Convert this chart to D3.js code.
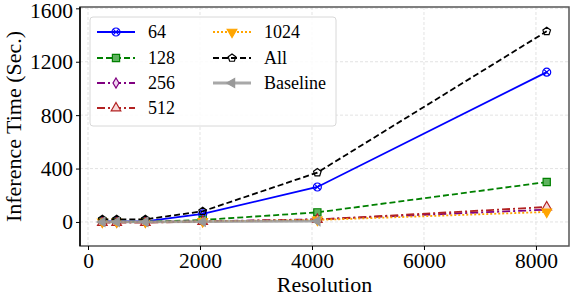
<!DOCTYPE html>
<html>
<head>
<meta charset="utf-8">
<script src="https://cdn.jsdelivr.net/npm/d3@7"></script>
<style>
  body { margin: 0; background: #fff; }
  svg { display: block; font-family: "Liberation Serif", "DejaVu Serif", serif; }
</style>
</head>
<body>
<svg id="chart" width="572" height="296"></svg>
<script>
(function() {
    'use strict';

    var resolutions = [256, 512, 1024, 2048, 4096, 8192];
    var t64 = [5, 5, 5, 60, 262, 1122];
    var t128 = [2, 2, 2, 15, 72, 299];
    var t256 = [0, 0, 0, 5, 20, 92];
    var t512 = [-5, -5, -5, 3, 18, 112];
    var t1024 = [0, 0, 0, 4, 15, 75];
    var tAll = [20, 20, 20, 80, 370, 1428];
    var tBaseline = [0, 0, 0, 2, 7];
    var xTicks = [0, 2000, 4000, 6000, 8000];
    var yTicks = [0, 400, 800, 1200, 1600];

    var width = 572, height = 296,
        margin = {top: 7, right: 3, bottom: 50, left: 80};

    var svg = d3.select("#chart");
    var x = d3.scaleLinear().domain([-143, 8590]).range([margin.left, width - margin.right]);
    var y = d3.scaleLinear().domain([-180, 1610]).range([height - margin.bottom, margin.top]);

    function pentagon(r) {
        var p = d3.path();
        for (var i = 0; i < 5; i++) {
            var a = -Math.PI / 2 + i * 2 * Math.PI / 5;
            if (i === 0) p.moveTo(r * Math.cos(a), r * Math.sin(a));
            else p.lineTo(r * Math.cos(a), r * Math.sin(a));
        }
        p.closePath();
        return p.toString();
    }
    function circleX(r) {
        var k = r * 0.7;
        return d3.symbol(d3.symbolCircle, Math.PI * r * r)() +
            "M" + (-k) + "," + (-k) + "L" + k + "," + k + "M" + k + "," + (-k) + "L" + (-k) + "," + k;
    }
    function thinDiamond(r) {
        return "M0," + (-r) + "L" + (r * 0.6) + ",0L0," + r + "L" + (-r * 0.6) + ",0Z";
    }

    var series = [
        {name: "64", values: t64, color: "#0000ff", dash: null, marker: function() { return circleX(4); }, fill: "none", rot: 0},
        {name: "128", values: t128, color: "#008000", dash: "6,3", marker: function() { return d3.symbol(d3.symbolSquare, 52)(); }, fill: "#5fb35f", rot: 0},
        {name: "256", values: t256, color: "#800080", dash: "8,3,2,3", marker: function() { return thinDiamond(5); }, fill: "#f0d8f0", rot: 0},
        {name: "512", values: t512, color: "#b22222", dash: "8,3,2,3", marker: function() { return d3.symbol(d3.symbolTriangle, 40)(); }, fill: "#f8d8d8", rot: 0},
        {name: "1024", values: t1024, color: "#ffa500", dash: "2,2", marker: function() { return d3.symbol(d3.symbolTriangle, 40)(); }, fill: "#ffa500", rot: 180},
        {name: "All", values: tAll, color: "#000000", dash: "6,3", marker: function() { return pentagon(4); }, fill: "none", rot: 0},
        {name: "Baseline", values: tBaseline, color: "#999999", dash: null, marker: function() { return d3.symbol(d3.symbolTriangle, 36)(); }, fill: "#999999", rot: -90, width: 2.8}
    ];

    // grid
    svg.append("g").selectAll("line").data(xTicks).enter().append("line")
        .attr("x1", function(d) { return x(d); }).attr("x2", function(d) { return x(d); })
        .attr("y1", margin.top).attr("y2", height - margin.bottom)
        .attr("stroke", "#dcdcdc").attr("stroke-dasharray", "3,2").attr("stroke-width", 0.8);
    svg.append("g").selectAll("line").data(yTicks).enter().append("line")
        .attr("y1", function(d) { return y(d); }).attr("y2", function(d) { return y(d); })
        .attr("x1", margin.left).attr("x2", width - margin.right)
        .attr("stroke", "#dcdcdc").attr("stroke-dasharray", "3,2").attr("stroke-width", 0.8);

    // lines
    var line = d3.line()
        .x(function(d, i) { return x(resolutions[i]); })
        .y(function(d) { return y(d); });

    var plot = svg.append("g");
    series.forEach(function(s) {
        plot.append("path")
            .datum(s.values)
            .attr("d", line)
            .attr("fill", "none")
            .attr("stroke", s.color)
            .attr("stroke-opacity", s.name === "Baseline" ? 0.85 : 1)
            .attr("stroke-width", s.width || 1.8)
            .attr("stroke-dasharray", s.dash);
        plot.selectAll(null).data(s.values).enter().append("path")
            .attr("d", s.marker())
            .attr("transform", function(d, i) {
                return "translate(" + x(resolutions[i]) + "," + y(d) + ") rotate(" + s.rot + ")";
            })
            .attr("fill", s.fill)
            .attr("stroke", s.color)
            .attr("stroke-width", 1.2);
    });

    // frame
    var left = margin.left, right = width - margin.right,
        top = margin.top, bottom = height - margin.bottom;
    svg.append("rect").attr("x", left).attr("y", top)
        .attr("width", right - left).attr("height", bottom - top)
        .attr("fill", "none").attr("stroke", "#555").attr("stroke-width", 1.5);
    svg.append("line").attr("x1", left).attr("x2", left).attr("y1", top).attr("y2", bottom)
        .attr("stroke", "#000").attr("stroke-width", 1.5);

    // axes
    var xAxis = svg.append("g")
        .attr("transform", "translate(0," + bottom + ")")
        .call(d3.axisBottom(x).tickValues(xTicks).tickSize(4).tickPadding(3).tickFormat(d3.format("d")));
    var yAxis = svg.append("g")
        .attr("transform", "translate(" + left + ",0)")
        .call(d3.axisLeft(y).tickValues(yTicks).tickSize(4).tickPadding(3).tickFormat(d3.format("d")));
    [xAxis, yAxis].forEach(function(a) {
        a.select(".domain").remove();
        a.selectAll("text").attr("font-size", 21.5).attr("fill", "#000")
            .attr("font-family", "Liberation Serif");
        a.selectAll("line").attr("stroke", "#000").attr("stroke-width", 1);
    });
    // keep the top tick label inside the page
    yAxis.selectAll("text").filter(function(d) { return d === 1600; }).attr("dy", "0.42em");

    svg.append("text").attr("x", (left + right) / 2).attr("y", 292)
        .attr("text-anchor", "middle").attr("font-size", 22).text("Resolution");
    svg.append("text")
        .attr("transform", "translate(21," + ((top + bottom) / 2) + ") rotate(-90)")
        .attr("text-anchor", "middle").attr("font-size", 22).text("Inference Time (Sec.)");

    // legend
    var legend = svg.append("g");
    legend.append("rect").attr("x", 90).attr("y", 17).attr("width", 246).attr("height", 109)
        .attr("rx", 3).attr("fill", "#fff").attr("fill-opacity", 0.85)
        .attr("stroke", "#d8d8d8").attr("stroke-width", 1);
    var rowsY = [32, 58, 83, 108];
    series.forEach(function(s, i) {
        var col = i < 4 ? 0 : 1, row = i < 4 ? i : i - 4;
        var hx = col === 0 ? 97 : 213, ly = rowsY[row];
        var g = legend.append("g");
        g.append("line").attr("x1", hx).attr("x2", hx + 38).attr("y1", ly).attr("y2", ly)
            .attr("stroke", s.color).attr("stroke-width", s.width || 1.8)
            .attr("stroke-opacity", s.name === "Baseline" ? 0.85 : 1)
            .attr("stroke-dasharray", s.dash);
        g.append("path").attr("d", s.marker())
            .attr("transform", "translate(" + (hx + 19) + "," + ly + ") rotate(" + s.rot + ")")
            .attr("fill", s.fill).attr("stroke", s.color).attr("stroke-width", 1.2);
        g.append("text").attr("x", hx + 51).attr("y", ly + 6)
            .attr("font-size", 18).text(s.name);
    });
})();
</script>
</body>
</html>
